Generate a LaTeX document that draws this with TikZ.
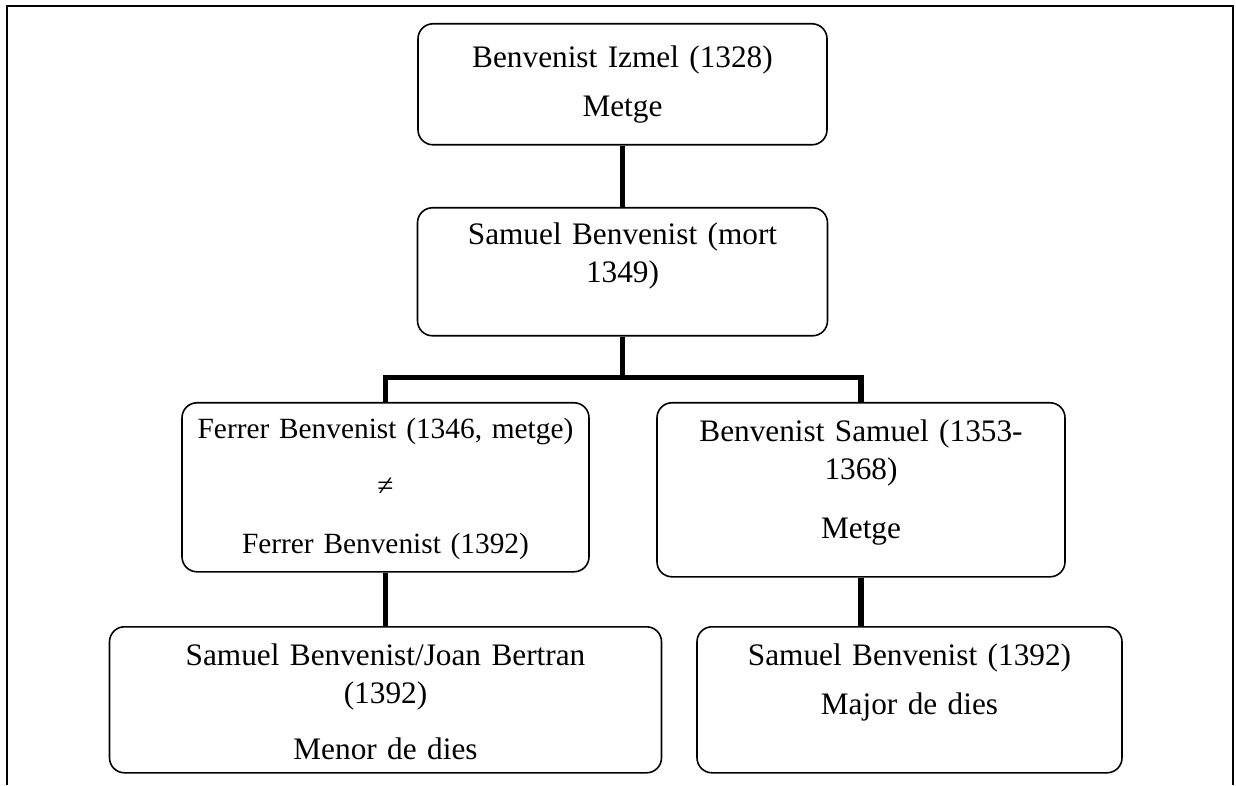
\documentclass[tikz,border=0pt]{standalone}
\usepackage{fontspec}
\setmainfont{Liberation Serif}
\usepackage{tikz}
\usetikzlibrary{calc}
\tikzset{caixa/.style={draw,rounded corners=0.3cm,line width=0.9pt,align=center,inner xsep=0.15cm,inner ysep=0pt,anchor=north,font=\fontsize{17.8}{21.5}\selectfont}}
\tikzset{branca/.style={line width=3.2pt}}

\begin{document}
\begin{tikzpicture}
        \useasboundingbox (0,0) rectangle (24.72,15.7);
        % marc obert per baix
        \draw[line width=1.4pt] (0.14,0) -- (0.14,15.58) -- (24.66,15.58) -- (24.66,0);
        \node[caixa,text width=7.88cm,text height=0.88cm,text depth=1.54cm] (izmel) at (12.45,15.24) {Benvenist Izmel (1328)\\[6.5pt]Metge};
        \node[caixa,text width=7.9cm,text height=0.74cm,text depth=1.82cm] (samuel) at (12.45,11.56) {Samuel Benvenist (mort\\1349)};
        \node[caixa,font=\fontsize{16.7}{20}\selectfont,text width=7.84cm,text height=0.72cm,text depth=2.66cm] (ferrer) at (7.71,7.66) {Ferrer Benvenist (1346, metge)\\[12pt]≠\\[13pt]Ferrer Benvenist (1392)};
        \node[caixa,text width=7.86cm,text height=0.78cm,text depth=2.7cm] (benvsamuel) at (17.22,7.66) {Benvenist Samuel (1353-\\1368)\\[12pt]Metge};
        \node[caixa,text width=10.74cm,text height=0.78cm,text depth=2.14cm] (menor) at (7.71,3.18) {Samuel Benvenist/Joan Bertran\\(1392)\\[10.5pt]Menor de dies};
        \node[caixa,text width=8.2cm,text height=0.78cm,text depth=2.14cm] (major) at (18.19,3.18) {Samuel Benvenist (1392)\\[6.5pt]Major de dies};
        \coordinate (branca) at (12.45,8.15);
        \draw[branca] (izmel.south) -- (samuel.north);
        \draw[branca] (samuel.south) -- (branca);
        \draw[branca] (ferrer.north) |- (branca) -| (benvsamuel.north);
        \draw[branca] (ferrer.south) -- (menor.north);
        \draw[branca] (benvsamuel.south) -- (benvsamuel.south |- major.north);
\end{tikzpicture}
\end{document}
